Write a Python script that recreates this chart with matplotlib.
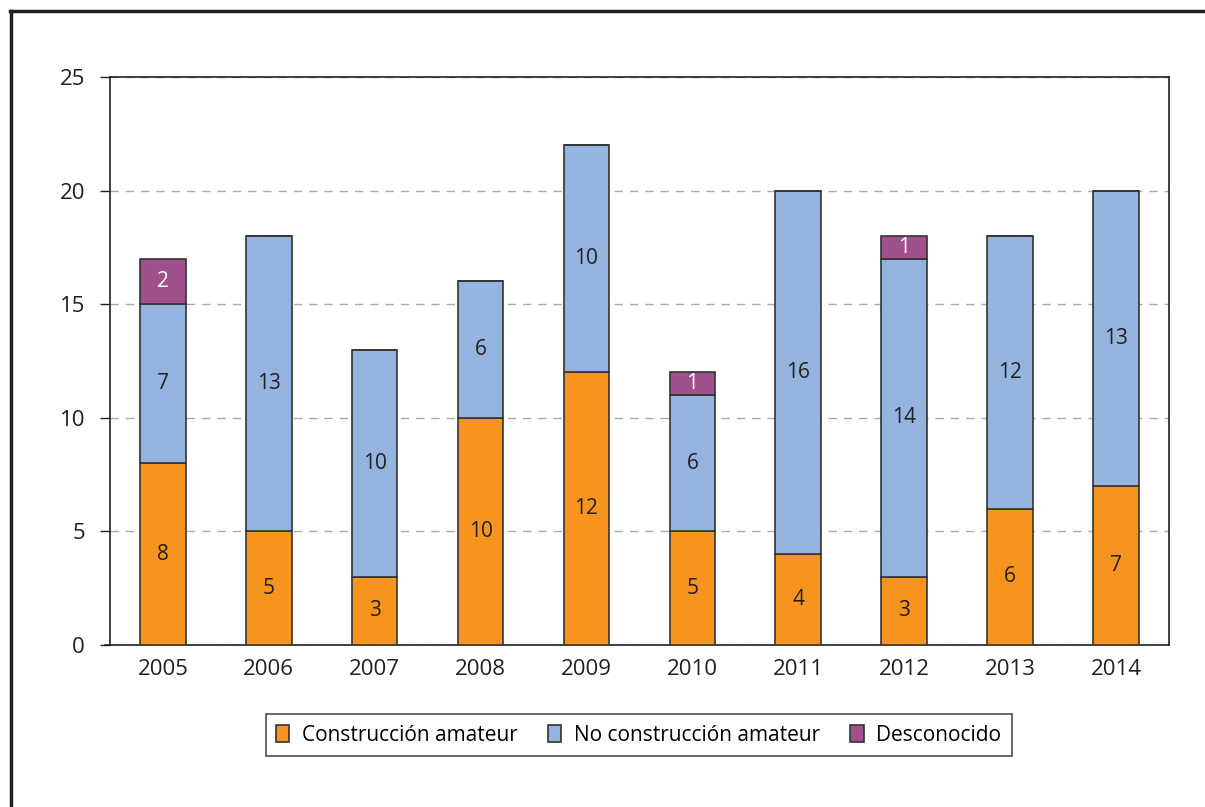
import matplotlib.pyplot as plt
import numpy as np

anios = ['2005', '2006', '2007', '2008', '2009', '2010', '2011', '2012', '2013', '2014']
amateur = [8, 5, 3, 10, 12, 5, 4, 3, 6, 7]
no_amateur = [7, 13, 10, 6, 10, 6, 16, 14, 12, 13]
desconocido = [2, 0, 0, 0, 0, 1, 0, 1, 0, 0]

series = [
    (amateur, 'Construcción amateur', '#F7941D', '#231F20'),
    (no_amateur, 'No construcción amateur', '#95B3DF', '#231F20'),
    (desconocido, 'Desconocido', '#A0508A', 'white'),
]

plt.rcParams['font.family'] = ['Open Sans', 'DejaVu Sans']

fig = plt.figure(figsize=(12.05, 8.07), dpi=100)
ax = fig.add_axes([0.0913, 0.2007, 0.8787, 0.7039])

x = np.arange(len(anios))
base = np.zeros(len(anios))
for valores, nombre, color, ctexto in series:
    v = np.array(valores, dtype=float)
    barras = ax.bar(x, v, 0.43, bottom=base, color=color, edgecolor='#333333',
                    linewidth=1.2, label=nombre, zorder=3)
    for i, b in enumerate(barras):
        if v[i] > 0:
            ax.text(b.get_x() + b.get_width() / 2, base[i] + v[i] / 2, str(int(v[i])),
                    ha='center', va='center', fontsize=15, color=ctexto, zorder=4)
    base = base + v

ax.set_xlim(-0.5, len(anios) - 0.5)
ax.set_ylim(0, 25)
ax.set_yticks([0, 5, 10, 15, 20, 25])
ax.set_xticks(x)
ax.set_xticklabels(anios)
ax.tick_params(axis='x', length=0, pad=10, labelsize=16, colors='#231F20')
ax.tick_params(axis='y', length=7, width=1, pad=11, labelsize=16, colors='#231F20')
ax.yaxis.grid(True, linestyle=(0, (6, 5)), color='#AAAAAA', linewidth=1, zorder=0)
for s in ax.spines.values():
    s.set_color('#231F20')
    s.set_linewidth(1.2)

# linea del cero se prolonga a la izquierda
ax.plot([-0.55, -0.5], [0, 0], color='#231F20', linewidth=1.2, clip_on=False)

leg = ax.legend(loc='center', bbox_to_anchor=(0.530, 0.089), bbox_transform=fig.transFigure,
                ncol=3, fontsize=15, frameon=True, fancybox=False, edgecolor='#231F20',
                handlelength=0.65, handleheight=0.85, handletextpad=0.6, columnspacing=1.45,
                borderpad=0.5)
leg.get_frame().set_linewidth(1.2)
for h in leg.legend_handles:
    h.set_edgecolor('#333333')

# marco exterior
fig.add_artist(plt.Line2D([0.0083, 1.0], [0.9864, 0.9864], color='#231F20', linewidth=2.5))
fig.add_artist(plt.Line2D([0.0091, 0.0091], [0.0, 0.9864], color='#231F20', linewidth=2.5))

fig.savefig('out.png', dpi=100)
